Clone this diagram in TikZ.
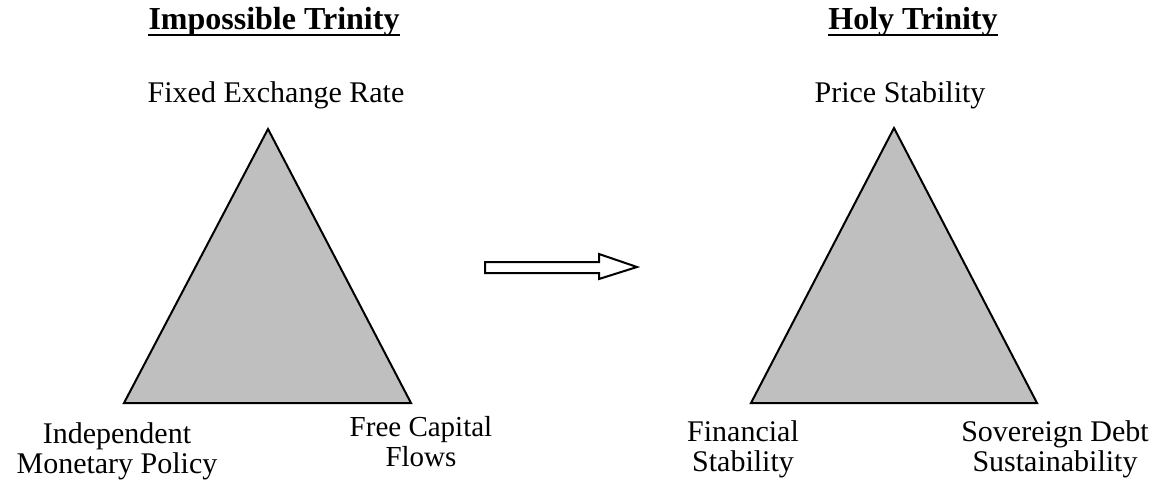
\documentclass[tikz,border=0pt]{standalone}
\usepackage{fontspec}
\setmainfont{Liberation Serif}
\begin{document}
\begin{tikzpicture}[x=1pt,y=-1pt,
  title/.style={inner sep=0pt,anchor=base,font=\fontsize{32}{32}\selectfont\bfseries},
  corner/.style={inner sep=0pt,anchor=base,align=center,font=\fontsize{30}{30}\selectfont},
  trifill/.style={draw=black,line width=2pt,fill=black!25,line join=miter}]
\useasboundingbox (0,0) rectangle (1175,487);
% titles with thick underline
\node[title] (imp) at (274,30) {Impossible Trinity};
\node[title] (holy) at (913,30) {Holy Trinity};
\draw[line width=2.5pt] ([yshift=-5pt]imp.base west) -- ([yshift=-5pt]imp.base east);
\draw[line width=2.5pt] ([yshift=-5pt]holy.base west) -- ([yshift=-5pt]holy.base east);
% corners of triangles
\coordinate (la) at (268,129);
\coordinate (ll) at (124,403);
\coordinate (lr) at (411,403);
\coordinate (ra) at (894,128);
\coordinate (rl) at (751,403);
\coordinate (rr) at (1037,403);
\draw[trifill] (la) -- (ll) -- (lr) -- cycle;
\draw[trifill] (ra) -- (rl) -- (rr) -- cycle;
% labels of left triangle (base = last line)
\node[corner] (fixed) at (276,102) {Fixed Exchange Rate};
\node[corner] (indep) at (117,473) {Independent\\Monetary Policy};
\node[corner,font=\fontsize{29}{30}\selectfont] (flows) at (421,466) {Free Capital\\Flows};
% labels of right triangle
\node[corner] (price) at (900,102) {Price Stability};
\node[corner] (fin) at (743,471) {Financial\\Stability};
\node[corner] (sov) at (1055,471) {Sovereign Debt\\Sustainability};
% block arrow between the two
\coordinate (tail) at (485,267.5);
\coordinate (tip) at (637,267);
\draw[line width=2pt,fill=white,line join=miter]
  ([yshift=5.5pt]tail) -- (599,262) -- (599,254) -- (tip)
  -- (599,279) -- (599,273) -- ([yshift=-5.5pt]tail) -- cycle;
\end{tikzpicture}
\end{document}
